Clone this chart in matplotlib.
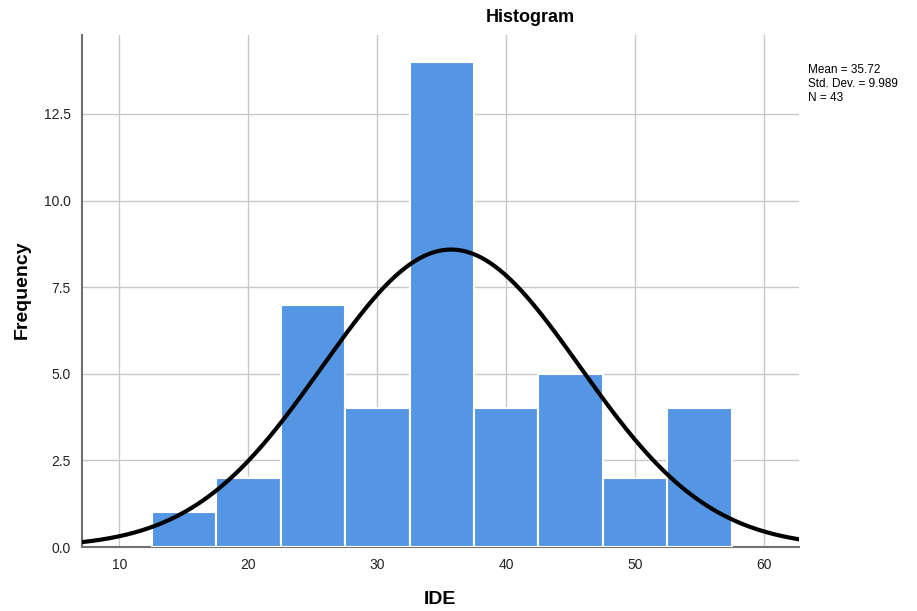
import numpy as np
import matplotlib
matplotlib.use("Agg")
import matplotlib.pyplot as plt

# histogram bins (width 5) and counts
bin_edges = [12.5, 17.5, 22.5, 27.5, 32.5, 37.5, 42.5, 47.5, 52.5, 57.5]
counts = [1, 2, 7, 4, 14, 4, 5, 2, 4]
mean = 35.72
std = 9.989
n = 43
x_ticks = [10, 20, 30, 40, 50, 60]
y_ticks = [0.0, 2.5, 5.0, 7.5, 10.0, 12.5]

plt.rcParams['font.family'] = ['Liberation Sans', 'DejaVu Sans']

fig = plt.figure(figsize=(9.17, 6.11), dpi=100)
ax = fig.add_axes([0.0894, 0.1047, 0.7819, 0.838])

widths = np.diff(bin_edges)
ax.bar(bin_edges[:-1], counts, width=widths, align='edge', color='#5596E4',
       edgecolor='white', linewidth=1.5, zorder=3)

# normal curve scaled to counts
xs = np.linspace(7.1, 62.7, 400)
bw = widths[0]
ys = n * bw / (std * np.sqrt(2 * np.pi)) * np.exp(-0.5 * ((xs - mean) / std) ** 2)
ax.plot(xs, ys, color='black', linewidth=3, zorder=4)

ax.set_xlim(7.1, 62.7)
ax.set_ylim(0, 14.78)
ax.set_xticks(x_ticks)
ax.set_yticks(y_ticks)
ax.set_yticklabels([f"{v:.1f}" for v in y_ticks])
ax.grid(True, color='#c8c8c8', linewidth=1, zorder=0)
ax.set_axisbelow(True)
ax.tick_params(length=0, labelsize=10, colors='#222222', pad=8)

for s in ['top', 'right']:
    ax.spines[s].set_visible(False)
for s in ['left', 'bottom']:
    ax.spines[s].set_color('#707070')
    ax.spines[s].set_linewidth(1.5)

# axis titles placed like the SPSS output
fig.text(440 / 917, 1 - 600 / 611, 'IDE', ha='center', va='center',
         fontsize=14, fontweight='bold')
fig.text(22 / 917, 1 - 290 / 611, 'Frequency', ha='center', va='center',
         rotation=90, fontsize=14, fontweight='bold')

fig.text(530 / 917, 1 - 18 / 611, 'Histogram', ha='center', va='center',
         fontsize=13, fontweight='bold')
fig.text(808 / 917, 1 - 84 / 611,
         f"Mean = {mean:.2f}\nStd. Dev. = {std:.3f}\nN = {n}",
         ha='left', va='center', fontsize=8.5, linespacing=1.2)

fig.savefig('out.png', dpi=100)
